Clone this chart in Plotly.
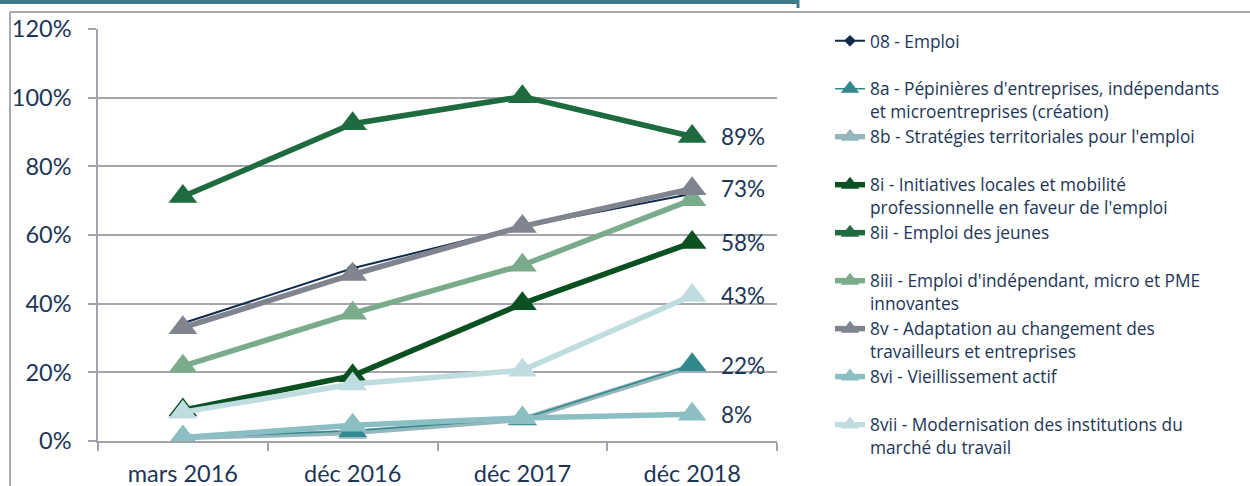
import plotly.graph_objects as go

categories = ["mars 2016", "déc 2016", "déc 2017", "déc 2018"]

series_names = [
    "08 - Emploi",
    "8a - Pépinières d'entreprises, indépendants<br>et microentreprises (création)",
    "8b - Stratégies territoriales pour l'emploi",
    "8i - Initiatives locales et mobilité<br>professionnelle en faveur de l'emploi",
    "8ii - Emploi des jeunes",
    "8iii - Emploi d'indépendant, micro et PME<br>innovantes",
    "8v - Adaptation au changement des<br>travailleurs et entreprises",
    "8vi - Vieillissement actif",
    "8vii - Modernisation des institutions du<br>marché du travail",
]

emploi_08 = [0.343, 0.503, 0.625, 0.72]
v_8a = [0.01, 0.03, 0.065, 0.222]
v_8b = [0.01, 0.025, 0.063, 0.218]
v_8i = [0.09, 0.19, 0.40, 0.578]
v_8ii = [0.712, 0.924, 1.003, 0.887]
v_8iii = [0.218, 0.372, 0.512, 0.703]
v_8v = [0.33, 0.485, 0.625, 0.735]
v_8vi = [0.01, 0.046, 0.067, 0.078]
v_8vii = [0.084, 0.166, 0.206, 0.424]

end_labels = ["89%", "73%", "58%", "43%", "22%", "8%"]
end_label_values = [0.887, 0.735, 0.578, 0.424, 0.22, 0.078]

colors = ["#0f2b4c", "#31898f", "#95b7bc", "#0b5020", "#1f6b40",
          "#7aac8c", "#80848f", "#8bbfc4", "#bfdde1"]
widths = [2, 1.5, 5.5, 5.5, 5.5, 5.5, 5.5, 5.5, 5.5]
values = [emploi_08, v_8a, v_8b, v_8i, v_8ii, v_8iii, v_8v, v_8vi, v_8vii]
symbols = ["diamond"] + ["triangle-up"] * 8
msizes = [9] + [25] * 8
draw_order = [0, 2, 1, 3, 4, 5, 6, 7, 8]

TXT = "#1c3557"
FONT = "Lato"
LEG_FONT = "Open Sans"

fig = go.Figure()
for i in draw_order:
    name = series_names[i]
    if "<br>" not in name:
        name = name + "<br> "
    fig.add_trace(go.Scatter(
        x=categories, y=values[i], name=name,
        mode="lines+markers",
        line=dict(color=colors[i], width=widths[i]),
        marker=dict(symbol=symbols[i], size=msizes[i], color=colors[i],
                    line=dict(width=0)),
        legendrank=i + 1, legendgroup=str(i),
    ))

for lab, val in zip(end_labels, end_label_values):
    fig.add_annotation(x=categories[-1], y=val, text=lab, showarrow=False,
                       xanchor="left", xshift=27,
                       font=dict(size=22.5, color=TXT, family=FONT))

W, H = 1250, 486
L, R, T, B = 98, 777, 29, 441


def px(x):
    return (x - L) / (R - L)


def py(y):
    return (H - y) / H


shapes = [
    dict(type="line", xref="paper", yref="paper", x0=px(10), x1=px(10),
         y0=py(12), y1=py(490), line=dict(color="#888c94", width=1.5)),
    dict(type="line", xref="paper", yref="paper", x0=px(10), x1=px(1252),
         y0=py(12), y1=py(12), line=dict(color="#888c94", width=1.5)),
    dict(type="line", xref="paper", yref="paper", x0=px(-2), x1=px(799),
         y0=py(2), y1=py(2), line=dict(color="#3d7a8c", width=4)),
    dict(type="line", xref="paper", yref="paper", x0=px(798), x1=px(798),
         y0=py(0), y1=py(8), line=dict(color="#3d7a8c", width=3)),
]

fig.update_layout(
    width=W, height=H,
    margin=dict(l=L, r=W - R, t=0, b=0, pad=0, autoexpand=False),
    plot_bgcolor="white", paper_bgcolor="white",
    font=dict(family=FONT, color=TXT),
    shapes=shapes,
    legend=dict(x=px(830), y=py(23), xanchor="left", yanchor="top",
                font=dict(size=17.3, color=TXT, family=LEG_FONT),
                valign="top", tracegroupgap=0, traceorder="normal",
                bgcolor="rgba(0,0,0,0)"),
    xaxis=dict(type="category", showgrid=False, showline=True,
               linecolor="#a0a3aa", linewidth=1.5, ticks="outside",
               tickson="boundaries", ticklen=8, tickcolor="#a0a3aa",
               tickwidth=1.5, tickfont=dict(size=23.5, color=TXT, family=FONT),
               range=[-0.5, 3.5], ticklabelstandoff=11),
    yaxis=dict(range=[0, 1.2], dtick=0.2, tickformat=".0%", showgrid=True,
               domain=[py(B), py(T)],
               gridcolor="#a5a6ad", gridwidth=1.5, showline=True,
               linecolor="#a0a3aa", linewidth=1.5, ticks="outside",
               ticklen=8, tickcolor="#a0a3aa", tickwidth=1.5,
               tickfont=dict(size=23.5, color=TXT, family=FONT),
               zeroline=False, ticklabelstandoff=12),
)

fig.write_html("out.html", config={"displayModeBar": False},
               post_script="document.body.style.margin='0';document.body.style.overflow='hidden';")
